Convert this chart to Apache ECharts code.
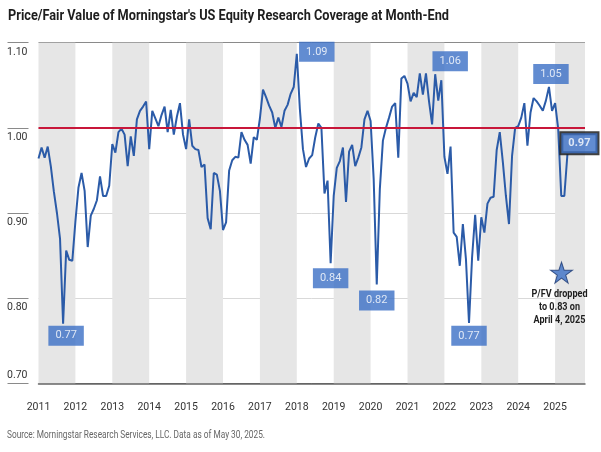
<!DOCTYPE html>
<html>
<head>
<meta charset="utf-8">
<script src="https://cdn.jsdelivr.net/npm/echarts@6/dist/echarts.min.js"></script>
<style>
  html, body { margin: 0; padding: 0; background: #ffffff; }
  #chart { width: 601px; height: 452px; }
</style>
</head>
<body>
<div id="chart"></div>
<script>
// ---- Data: month-end Price/Fair Value, Jan 2011 .. May 2025 ----
const pfv2011 = [0.964, 0.977, 0.965, 0.978, 0.955, 0.925, 0.900, 0.870, 0.770, 0.856, 0.845, 0.844];
const pfv2012 = [0.890, 0.930, 0.947, 0.926, 0.860, 0.897, 0.905, 0.915, 0.943, 0.920, 0.920, 0.932];
const pfv2013 = [0.981, 0.971, 0.995, 0.999, 0.992, 0.955, 0.990, 0.967, 1.010, 1.020, 1.025, 1.031];
const pfv2014 = [0.975, 1.020, 1.011, 1.002, 1.015, 1.025, 0.995, 1.021, 0.992, 1.013, 1.029, 0.992];
const pfv2015 = [0.975, 1.010, 0.979, 0.975, 0.974, 0.954, 0.957, 0.894, 0.881, 0.947, 0.945, 0.926];
const pfv2016 = [0.880, 0.889, 0.950, 0.962, 0.966, 0.965, 0.995, 0.986, 0.980, 0.958, 0.989, 0.986];
const pfv2017 = [1.011, 1.045, 1.036, 1.026, 1.018, 1.000, 1.012, 1.001, 1.020, 1.027, 1.040, 1.048];
const pfv2018 = [1.087, 1.022, 0.975, 0.954, 0.964, 0.968, 0.989, 1.005, 1.000, 0.923, 0.938, 0.841];
const pfv2019 = [0.920, 0.953, 0.961, 0.977, 0.913, 0.972, 0.980, 0.955, 0.965, 0.977, 1.010, 1.020];
const pfv2020 = [1.008, 0.940, 0.816, 0.928, 0.985, 1.000, 1.012, 1.025, 1.029, 0.965, 1.058, 1.061];
const pfv2021 = [1.052, 1.031, 1.041, 1.036, 1.064, 1.039, 1.064, 1.031, 1.004, 1.063, 1.032, 1.056];
const pfv2022 = [0.966, 0.946, 0.978, 0.877, 0.872, 0.838, 0.887, 0.846, 0.771, 0.848, 0.898, 0.844];
const pfv2023 = [0.895, 0.877, 0.911, 0.918, 0.919, 0.974, 0.995, 0.960, 0.920, 0.887, 0.967, 1.000];
const pfv2024 = [1.002, 1.012, 1.029, 0.979, 1.018, 1.035, 1.031, 1.026, 1.020, 1.032, 1.048, 1.020];
const pfv2025 = [1.029, 0.999, 0.920, 0.920, 0.969];

const startYear = 2011;
const yearTicks = [2011, 2012, 2013, 2014, 2015, 2016, 2017, 2018, 2019, 2020, 2021, 2022, 2023, 2024, 2025];
const shadedYears = [2011, 2013, 2015, 2017, 2019, 2021, 2023, 2025];
const fairValueLine = 1.00;
const yTicks = [0.70, 0.80, 0.90, 1.00, 1.10];

// callouts: month index since Jan 2011
const calloutMonths = [8, 84, 95, 110, 129, 140, 166];
const lastMonthLabel = 172;
const starDate = 2025 + 93 / 365;   // April 4, 2025
const starValue = 0.83;
const starLines = ['P/FV dropped', 'to 0.83 on', 'April 4, 2025'];

const titleText = "Price/Fair Value of Morningstar's US Equity Research Coverage at Month-End";
const sourceText = 'Source: Morningstar Research Services, LLC. Data as of May 30, 2025.';

// ---- Build ----
const allValues = [].concat(pfv2011, pfv2012, pfv2013, pfv2014, pfv2015, pfv2016, pfv2017,
  pfv2018, pfv2019, pfv2020, pfv2021, pfv2022, pfv2023, pfv2024, pfv2025);
const xOf = i => startYear + i / 12;
const points = allValues.map((v, i) => [xOf(i), v]);
const xMax = 2025.81;

const FONT = "Roboto, 'Liberation Sans', sans-serif";
const BLUE = '#2b5ba8';
const BOX = '#3b6fc5';

// condensed look: measure natural width and squeeze horizontally to the target width
const measureCtx = document.createElement('canvas').getContext('2d');
function squeeze(text, font, targetWidth) {
  measureCtx.font = font;
  const w = measureCtx.measureText(text).width;
  return Math.min(1, targetWidth / w);
}

const TITLE_FONT = "bold 14.5px " + FONT;
const SOURCE_FONT = "11px " + FONT;
const NOTE_FONT = "bold 11px " + FONT;

// label offsets (style only)
const calloutOffsets = {
  8: [3, 12], 84: [20, -2], 95: [0, 15], 110: [0, 16],
  129: [15, -13], 140: [0, 13], 166: [2, -13]
};

const calloutData = calloutMonths.map(i => ({
  value: [xOf(i), allValues[i]],
  label: { offset: calloutOffsets[i] }
}));
calloutData.push({
  value: [xOf(lastMonthLabel), allValues[lastMonthLabel]],
  label: { offset: [12, -11], borderColor: '#111', borderWidth: 2, fontWeight: 'bold' }
});

const bands = shadedYears.map(y => [{ xAxis: y }, { xAxis: Math.min(y + 1, xMax) }]);

const chart = echarts.init(document.getElementById('chart'), null, { renderer: 'canvas' });
chart.setOption({
  animation: false,
  backgroundColor: '#ffffff',
  textStyle: { fontFamily: FONT },
  grid: { left: 38.5, right: 16, top: 42.7, bottom: 68.7, containLabel: false },
  xAxis: {
    type: 'value', min: startYear, max: xMax, interval: 1,
    axisLine: { show: true, lineStyle: { color: '#666', width: 1.5 } },
    axisTick: { show: false },
    splitLine: { show: false },
    axisLabel: {
      margin: 19, color: '#333', fontSize: 10.5, fontFamily: FONT,
      showMaxLabel: false,
      formatter: v => (yearTicks.indexOf(Math.round(v)) >= 0 && Math.abs(v - Math.round(v)) < 1e-6) ? String(Math.round(v)) : ''
    }
  },
  yAxis: {
    type: 'value', min: yTicks[0], max: yTicks[yTicks.length - 1], interval: 0.1,
    offset: 10,
    axisLine: { show: false },
    axisTick: { show: true, length: 21, lineStyle: { color: '#8a8a8a', width: 1 } },
    splitLine: {
      show: true,
      lineStyle: { color: ['#666', '#d9d9d9', '#d9d9d9', '#d9d9d9', '#8a8a8a'], width: 1 }
    },
    axisLabel: {
      margin: 1, color: '#333', fontSize: 10.5, fontFamily: FONT,
      formatter: v => (Math.abs(v - yTicks[0]) < 1e-6 ? '{lo|' : '{hi|') + v.toFixed(2) + '}',
      rich: {
        hi: { padding: [19, 0, 0, 0], fontSize: 10.5, color: '#333', fontFamily: FONT },
        lo: { padding: [0, 0, 15, 0], fontSize: 10.5, color: '#333', fontFamily: FONT }
      }
    }
  },
  series: [
    {
      name: 'bands', type: 'line', data: [], z: 1, silent: true,
      markArea: { silent: true, itemStyle: { color: '#e6e6e6' }, data: bands },
      markLine: {
        silent: true, symbol: 'none', label: { show: false },
        lineStyle: { color: '#c8173a', width: 2, type: 'solid' },
        data: [{ yAxis: fairValueLine }]
      }
    },
    {
      name: 'P/FV', type: 'line', data: points, z: 3,
      showSymbol: false, symbol: 'none',
      lineStyle: { color: BLUE, width: 2 },
      itemStyle: { color: BLUE }
    },
    {
      name: 'callouts', type: 'scatter', data: calloutData, z: 5,
      symbolSize: 0, silent: true,
      label: {
        show: true, position: 'inside',
        formatter: p => p.value[1].toFixed(2),
        backgroundColor: BOX, color: '#fff', fontSize: 11, fontFamily: FONT,
        padding: [4, 7, 4, 7], lineHeight: 12
      }
    },
    {
      name: 'star', type: 'scatter', data: [[starDate, starValue]], z: 5,
      symbol: 'path://M50,0 L61.8,35.1 L98.9,35.1 L68.8,56.8 L79.4,91.2 L50,69.6 L20.6,91.2 L31.2,56.8 L1.1,35.1 L38.2,35.1 Z',
      symbolSize: [22, 21], symbolOffset: [-3, 0],
      itemStyle: { color: BOX, borderColor: '#1d3a73', borderWidth: 1 },
      label: { show: false }
    }
  ]
});

// texts placed after layout (star note anchored to the star's pixel position)
const starPx = chart.convertToPixel({ gridIndex: 0 }, [starDate, starValue]);
const noteScale = squeeze(starLines[0], NOTE_FONT, 56);
const graphics = [
  {
    type: 'text', x: 8, y: 16.5, scaleX: squeeze(titleText, TITLE_FONT, 441), z: 10,
    style: { text: titleText, font: TITLE_FONT, fill: '#1e1e1e', align: 'left', verticalAlign: 'middle',
             textAlign: 'left', textVerticalAlign: 'middle' }
  },
  {
    type: 'text', x: 7, y: 435.5, scaleX: squeeze(sourceText, SOURCE_FONT, 258), z: 10,
    style: { text: sourceText, font: SOURCE_FONT, fill: '#666', align: 'left', verticalAlign: 'middle',
             textAlign: 'left', textVerticalAlign: 'middle' }
  }
];
starLines.forEach((line, k) => {
  graphics.push({
    type: 'text', x: starPx[0] - 5, y: starPx[1] + 22 + k * 12.7, scaleX: noteScale, z: 10,
    style: { text: line, font: NOTE_FONT, fill: '#1e1e1e', align: 'center', verticalAlign: 'middle',
             textAlign: 'center', textVerticalAlign: 'middle' }
  });
});
chart.setOption({ graphic: { elements: graphics } });
</script>
</body>
</html>
